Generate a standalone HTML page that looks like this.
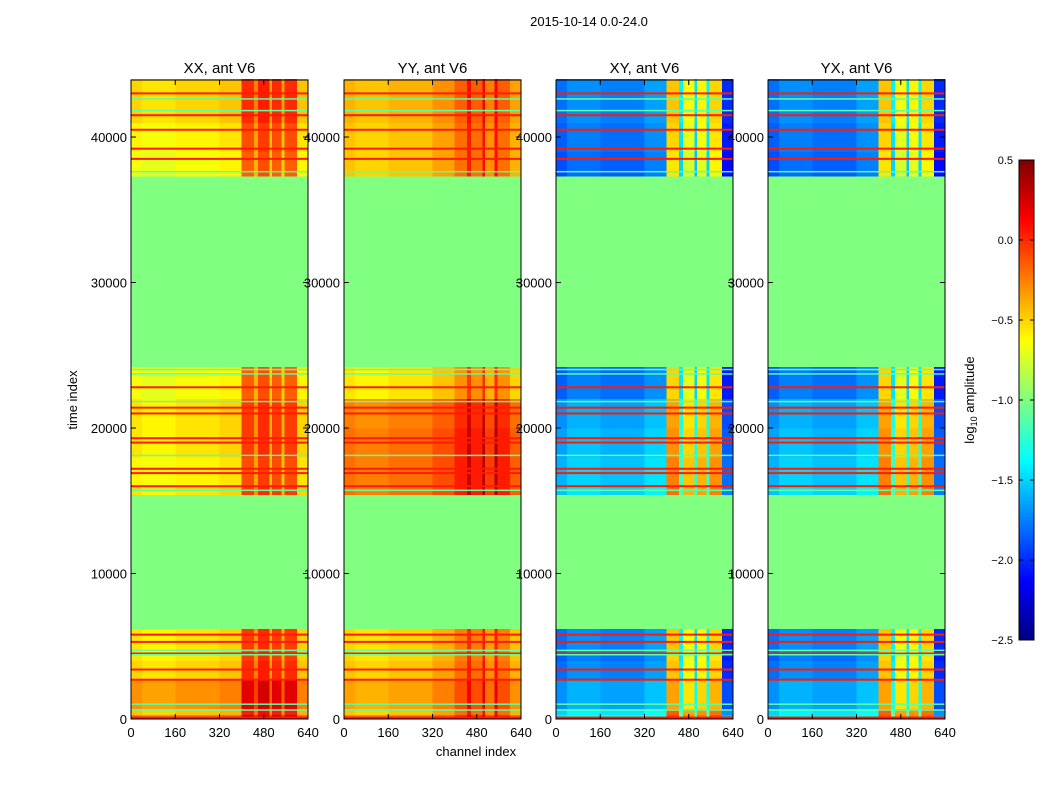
<!DOCTYPE html>
<html><head><meta charset="utf-8"><style>
body{margin:0;background:#fff;font-family:"Liberation Sans",sans-serif}
svg text{font-family:"Liberation Sans",sans-serif;fill:#000}
</style></head><body>
<svg id="fig" width="1050" height="800" viewBox="0 0 1050 800" xmlns="http://www.w3.org/2000/svg">
<rect width="1050" height="800" fill="#fff"/>
<text x="589" y="26" font-size="13" text-anchor="middle">2015-10-14 0.0-24.0</text>
<g id="panels"></g>
<g id="cbar"></g>
</svg>
<script>
// ---- data ----
const timeEdges = [0,300,700,2700,4000,4600,6200,15400,16000,18000,20000,22000,24200,37300,39000,41000,44000];
const chanEdges = [0,40,160,320,400,445,460,500,510,545,555,600,640];
const panelTitles = ["XX, ant V6","YY, ant V6","XY, ant V6","YX, ant V6"];
// base level per time band (null = flagged)
const timeXX = [-0.3,-0.5,-0.35,-0.55,-0.6,-0.6,null,-0.6,-0.65,-0.6,-0.6,-0.7,null,-0.7,-0.65,-0.55];
const timeYY = [-0.3,-0.5,-0.4,-0.5,-0.55,-0.55,null,-0.25,-0.25,-0.25,-0.3,-0.6,null,-0.5,-0.5,-0.45];
const timeXY = [-1.4,-1.5,-1.7,-1.8,-1.85,-1.8,null,-1.55,-1.6,-1.65,-1.7,-1.85,null,-1.9,-1.85,-1.8];
const timeYX = [-1.45,-1.5,-1.7,-1.8,-1.85,-1.8,null,-1.55,-1.6,-1.65,-1.7,-1.85,null,-1.9,-1.85,-1.8];
// channel offsets per channel band
const chanXX = [0.05,0,0.05,0.1,0.55,0.3,0.6,0.2,0.55,0.2,0.55,0.1];
const chanYY = [0.05,0,0.05,0.15,0.3,0.55,0.3,0.6,0.2,0.6,0.3,0.1];
const chanXY = [0,0.1,0.05,0.15,1.35,0.4,1.15,0.35,1.2,0.4,1.3,-0.2];
const chanYX = [0,0.1,0.05,0.15,1.35,0.4,1.15,0.35,1.2,0.4,1.3,-0.2];
// horizontal flagged/outlier lines (time values)
const redLines = [100,2700,3400,4500,5300,5800,16000,16900,17200,19000,19300,21000,21400,22800,38500,39200,40500,41500,43000];
const cyanLines = [600,1000,4400,4700,15700,18100,21800,23700,24000,37600,41800,42600];
const panelLefts = [131,344,556,768];
const yTicks = [0,10000,20000,30000,40000];
const xTicks = [0,160,320,480,640];
const cbarTicks = [0.5,0.0,-0.5,-1.0,-1.5,-2.0,-2.5];
// ---- scales ----
const TOP=80,BOT=719,W=177,TMAX=43920,VMIN=-2.5,VMAX=0.5;
const y=t=>BOT-(t/TMAX)*(BOT-TOP);
const xs=(c,L)=>L+c/640*W;
function jet(v){let t=Math.max(0,Math.min(1,(v-VMIN)/(VMAX-VMIN)));
 const cl=a=>Math.round(255*Math.max(0,Math.min(1,a)));
 return `rgb(${cl(1.5-Math.abs(4*t-3))},${cl(1.5-Math.abs(4*t-2))},${cl(1.5-Math.abs(4*t-1))})`;}
const NS="http://www.w3.org/2000/svg";
function mk(tag,attrs,parent){const e=document.createElementNS(NS,tag);for(const k in attrs)e.setAttribute(k,attrs[k]);parent.appendChild(e);return e;}
const times=[timeXX,timeYY,timeXY,timeYX], chans=[chanXX,chanYY,chanXY,chanYX];
const G=document.getElementById('panels');
panelLefts.forEach((L,p)=>{
 const g=mk('g',{},G);
 
 
 for(let r=0;r<timeEdges.length-1;r++){
  for(let c=0;c<chanEdges.length-1;c++){
   const base=times[p][r];
   const v= base===null ? -1.0 : base+chans[p][c];
   const x0=xs(chanEdges[c],L),x1=xs(chanEdges[c+1],L),y0=y(timeEdges[r+1]),y1=y(timeEdges[r]);
   const cell=mk('rect',{x:x0,y:y0,width:x1-x0+0.3,height:y1-y0+0.3,fill:jet(v),'shape-rendering':'crispEdges'},g);
   
   
  }
 }
 const inFlag=t=>timeEdges.some((e,i)=>times[p][i]===null&&t>=e&&t<timeEdges[i+1]);
 redLines.forEach(t=>{if(inFlag(t))return;
  const ln=mk('rect',{x:L,y:y(t)-1,width:W,height:2,fill:jet(0.05)},g);
  
  });
 cyanLines.forEach(t=>{if(inFlag(t))return;
  const ln=mk('rect',{x:L,y:y(t)-1,width:W,height:1.5,fill:jet(-1.1)},g);
  
  });
 const fr=mk('rect',{x:L,y:TOP,width:W,height:BOT-TOP,fill:'none',stroke:'#000','stroke-width':1},g);
 
 
 const tt=mk('text',{x:L+W/2,y:TOP-7,'font-size':15,'text-anchor':'middle'},g);tt.textContent=panelTitles[p];
 
 
 yTicks.forEach(t=>{const yy=y(t);
  mk('line',{x1:L,x2:L+5,y1:yy,y2:yy,stroke:'#000'},g);mk('line',{x1:L+W-5,x2:L+W,y1:yy,y2:yy,stroke:'#000'},g);
  const tx=mk('text',{x:L-4,y:yy+5,'font-size':13,'text-anchor':'end'},g);tx.textContent=t;
  
  });
 xTicks.forEach(c=>{const xx=xs(c,L);
  mk('line',{x1:xx,x2:xx,y1:BOT,y2:BOT-5,stroke:'#000'},g);mk('line',{x1:xx,x2:xx,y1:TOP,y2:TOP+5,stroke:'#000'},g);
  const tx=mk('text',{x:xx,y:BOT+18,'font-size':13,'text-anchor':'middle'},g);tx.textContent=c;
  
  });
});
const yl=mk('text',{x:77,y:400,'font-size':13,'text-anchor':'middle',transform:'rotate(-90 77 400)'},G);yl.textContent='time index';


const xl=mk('text',{x:476,y:756,'font-size':13,'text-anchor':'middle'},G);xl.textContent='channel index';


// colorbar
const C=document.getElementById('cbar');


const CT=160,CB=640,CX=1019,CW=15;
for(let i=0;i<120;i++){const v=VMIN+(i+0.5)/120*(VMAX-VMIN);const y0=CB-(i+1)/120*(CB-CT);
 mk('rect',{x:CX,y:y0,width:CW,height:(CB-CT)/120+0.5,fill:jet(v),'shape-rendering':'crispEdges'},C);}
mk('rect',{x:CX,y:CT,width:CW,height:CB-CT,fill:'none',stroke:'#000'},C);
cbarTicks.forEach(v=>{const yy=CB-(v-VMIN)/(VMAX-VMIN)*(CB-CT);
 mk('line',{x1:CX,x2:CX+4,y1:yy,y2:yy,stroke:'#000'},C);mk('line',{x1:CX+CW-4,x2:CX+CW,y1:yy,y2:yy,stroke:'#000'},C);
 const tx=mk('text',{x:1013,y:yy+4,'font-size':11,'text-anchor':'end'},C);tx.textContent=v.toFixed(1).replace('-','\u2212');
 
 });
const cl=mk('text',{x:974,y:400,'font-size':13,'text-anchor':'middle',transform:'rotate(-90 974 400)'},C);
cl.innerHTML='log<tspan font-size="9" dy="3">10</tspan><tspan dy="-3"> amplitude</tspan>';


</script>
</body></html>
